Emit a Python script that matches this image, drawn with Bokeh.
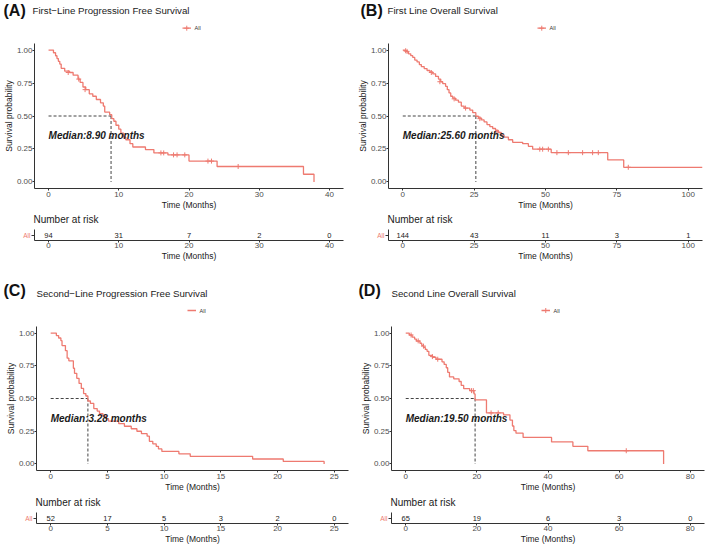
from bokeh.plotting import figure
from bokeh.layouts import column, row
from bokeh.models import Range1d, FactorRange, FixedTicker, NumeralTickFormatter, ColumnDataSource
from bokeh.core.properties import value
from bokeh.embed import file_html
from bokeh.resources import INLINE

FONT = "Liberation Sans"
CURVE = "#EE7A70"
INK = "#1A1A1A"
AXIS = "#333333"
TICKTXT = "#4D4D4D"

# ---------------- (A) First-line progression free survival ----------------
pfs1_time = [0.7, 1.0, 1.2, 1.4, 1.6, 1.8, 2.3, 3.0, 3.5, 4.2, 4.5, 4.9, 5.3, 5.8,
             6.3, 6.8, 7.4, 7.8, 8.0, 8.7, 9.0, 9.3, 9.6, 10.0, 10.3, 10.7, 11.0,
             11.6, 12.0, 13.8, 15.0, 17.0, 20.0, 24.0, 36.3, 37.8]
pfs1_surv = [0.98, 0.957, 0.936, 0.915, 0.894, 0.862, 0.84, 0.83, 0.81, 0.78, 0.755,
             0.72, 0.70, 0.668, 0.65, 0.625, 0.60, 0.575, 0.53, 0.51, 0.48, 0.46, 0.43,
             0.40, 0.37, 0.34, 0.32, 0.29, 0.265, 0.245, 0.22, 0.205, 0.158, 0.117,
             0.058, 0.0]
pfs1_cens_time = [2.8, 4.3, 5.2, 16.0, 16.4, 17.8, 18.3, 19.4, 22.7, 23.2, 27.0]
pfs1_cens_surv = [0.83, 0.78, 0.70, 0.22, 0.22, 0.205, 0.205, 0.205, 0.158, 0.158, 0.117]
pfs1_median = 8.90
pfs1_ticks = [0, 10, 20, 30, 40]
pfs1_at_risk = [94, 31, 7, 2, 0]

# ---------------- (B) First-line overall survival ----------------
os1_time = [0.8, 1.5, 2.0, 2.8, 3.5, 4.2, 5.0, 5.8, 6.5, 7.5, 8.5, 9.5, 10.5, 11.5,
            12.5, 13.3, 14.0, 15.0, 15.6, 16.2, 16.8, 17.5, 18.5, 19.5, 20.5, 21.5,
            23.5, 24.5, 25.6, 26.5, 27.5, 28.5, 29.5, 30.5, 31.5, 32.5, 33.5, 34.5,
            35.5, 37.0, 38.5, 42.0, 44.0, 45.5, 52.0, 71.8, 77.4, 105.0]
os1_surv = [0.993, 0.986, 0.972, 0.958, 0.944, 0.924, 0.91, 0.89, 0.875, 0.86, 0.845,
            0.835, 0.82, 0.80, 0.78, 0.76, 0.745, 0.725, 0.70, 0.675, 0.65, 0.635,
            0.62, 0.605, 0.575, 0.56, 0.545, 0.525, 0.498, 0.485, 0.47, 0.455, 0.435,
            0.42, 0.405, 0.39, 0.375, 0.355, 0.34, 0.32, 0.30, 0.29, 0.27, 0.248,
            0.222, 0.167, 0.111, 0.111]
os1_cens_time = [1.0, 1.5, 10.0, 13.0, 18.0, 22.0, 27.0, 33.0, 48.0, 49.0, 51.0, 54.0,
                 58.0, 63.0, 66.5, 68.5, 79.0]
os1_cens_surv = [0.995, 0.99, 0.83, 0.76, 0.63, 0.56, 0.48, 0.38, 0.248, 0.248, 0.248,
                 0.222, 0.222, 0.222, 0.222, 0.222, 0.111]
os1_median = 25.60
os1_ticks = [0, 25, 50, 75, 100]
os1_at_risk = [144, 43, 11, 3, 1]

# ---------------- (C) Second-line progression free survival ----------------
pfs2_time = [0.5, 0.7, 0.9, 1.0, 1.3, 1.45, 1.6, 2.0, 2.1, 2.3, 2.5, 2.7, 2.9, 3.1,
             3.28, 3.5, 3.8, 4.1, 4.3, 4.6, 4.9, 5.1, 6.0, 6.5, 7.1, 7.6, 8.0, 8.5,
             8.7, 9.0, 9.3, 9.5, 9.8, 11.3, 12.3, 17.8, 20.5, 24.1]
pfs2_surv = [0.981, 0.962, 0.942, 0.904, 0.865, 0.808, 0.788, 0.731, 0.692, 0.654,
             0.615, 0.577, 0.538, 0.519, 0.481, 0.462, 0.423, 0.404, 0.385, 0.365,
             0.346, 0.327, 0.308, 0.288, 0.269, 0.25, 0.231, 0.212, 0.173, 0.154,
             0.135, 0.115, 0.096, 0.077, 0.058, 0.038, 0.019, 0.0]
pfs2_cens_time = []
pfs2_cens_surv = []
pfs2_median = 3.28
pfs2_ticks = [0, 5, 10, 15, 20, 25]
pfs2_at_risk = [52, 17, 5, 3, 2, 0]

# ---------------- (D) Second-line overall survival ----------------
os2_time = [1.0, 1.8, 2.5, 3.0, 4.0, 4.5, 5.0, 5.5, 6.0, 6.5, 7.5, 8.5, 10.2, 10.8,
            11.4, 11.8, 12.3, 13.5, 15.0, 15.6, 16.3, 18.0, 19.2, 19.5, 22.7, 27.5,
            29.3, 30.0, 30.4, 31.0, 33.0, 41.0, 47.0, 51.2, 72.5]
os2_surv = [0.985, 0.969, 0.954, 0.938, 0.922, 0.906, 0.89, 0.875, 0.86, 0.83, 0.815,
            0.80, 0.78, 0.76, 0.735, 0.70, 0.665, 0.65, 0.63, 0.60, 0.575, 0.56,
            0.535, 0.49, 0.39, 0.375, 0.335, 0.29, 0.255, 0.235, 0.203, 0.168,
            0.135, 0.101, 0.0]
os2_cens_time = [1.5, 3.5, 5.0, 7.5, 9.0, 18.5, 19.0, 24.0, 26.0, 62.0]
os2_cens_surv = [0.985, 0.94, 0.90, 0.82, 0.80, 0.56, 0.56, 0.39, 0.39, 0.101]
os2_median = 19.50
os2_ticks = [0, 20, 40, 60, 80]
os2_at_risk = [65, 19, 6, 3, 0]


def blank(width, height):
    """A plain drawing strip whose data units are pixels, y growing downward."""
    return figure(width=width, height=height, x_range=Range1d(0, width),
                  y_range=Range1d(height, 0), x_axis_type=None, y_axis_type=None,
                  toolbar_location=None, output_backend="svg", min_border=0,
                  outline_line_color=None)


def header(spec):
    f = blank(spec["width"], spec["header_h"])
    f.text(x=[spec["tag_x"]], y=[spec["tag_y"]], text=[spec["tag"]],
           text_font=value(FONT), text_font_size="16px", text_font_style="bold",
           text_baseline="middle", text_color="#111111")
    f.text(x=[spec["sub_x"]], y=[spec["sub_y"]], text=[spec["subtitle"]],
           text_font=value(FONT), text_font_size="9.7px",
           text_baseline="middle", text_color="#222222")
    lx, ly = spec["leg_x"], spec["leg_y"]
    f.segment(x0=[lx], y0=[ly], x1=[lx + 8.5], y1=[ly], line_color=CURVE, line_width=1.3)
    if spec["cross"]:
        f.scatter(x=[lx + 4.25], y=[ly], marker="cross", size=5, line_color=CURVE,
                  line_width=1)
    f.text(x=[lx + 12], y=[ly], text=["All"], text_font=value(FONT),
           text_font_size="5.5px", text_baseline="middle", text_color="#333333")
    return f


def risk_caption(spec):
    f = blank(spec["width"], spec["cap_h"])
    f.text(x=[spec["left"] - 1], y=[spec["cap_y"]], text=["Number at risk"],
           text_font=value(FONT), text_font_size="10px", text_baseline="middle",
           text_color=INK)
    return f


def style_axes(p):
    for ax in p.axis:
        ax.axis_line_color = AXIS
        ax.axis_line_width = 1
        ax.major_tick_line_color = AXIS
        ax.major_tick_out = 2
        ax.major_tick_in = 0
        ax.minor_tick_line_color = None
        ax.major_label_text_font = FONT
        ax.major_label_text_font_size = "8px"
        ax.major_label_text_color = TICKTXT
        ax.major_label_standoff = 0
        ax.axis_label_text_font = FONT
        ax.axis_label_text_font_size = "8.5px"
        ax.axis_label_text_font_style = "normal"
        ax.axis_label_text_color = INK
        ax.axis_label_standoff = 0


def km_plot(spec):
    lo, hi = spec["xlim"]
    p = figure(width=spec["width"], height=spec["km_h"], x_range=Range1d(lo, hi),
               y_range=Range1d(-0.05, 1.05), toolbar_location=None,
               output_backend="svg", min_border_left=spec["left"],
               min_border_right=spec["right"], min_border_top=0,
               min_border_bottom=25)
    p.grid.visible = False
    p.outline_line_color = None
    p.xaxis.ticker = FixedTicker(ticks=spec["ticks"])
    p.yaxis.ticker = FixedTicker(ticks=[0, 0.25, 0.5, 0.75, 1.0])
    p.yaxis.formatter = NumeralTickFormatter(format="0.00")
    p.xaxis.axis_label = "Time (Months)"
    p.yaxis.axis_label = "Survival probability"
    style_axes(p)
    p.xaxis.major_label_standoff = 1

    med = spec["median"]
    p.segment(x0=[0], y0=[0.5], x1=[med], y1=[0.5], line_color="#444444",
              line_dash="3 2", line_width=1)
    p.segment(x0=[med], y0=[0.5], x1=[med], y1=[0], line_color="#444444",
              line_dash="3 2", line_width=1)

    xs = [0.0] + list(spec["time"])
    ys = [1.0] + list(spec["surv"])
    p.step(x=xs, y=ys, mode="after", line_color=CURVE, line_width=1.3)
    if spec["cens_time"]:
        p.scatter(x=spec["cens_time"], y=spec["cens_surv"], marker="cross", size=5,
                  line_color=CURVE, line_width=1)
    p.text(x=[0], y=[0.35], text=[f"Median:{med:.2f} months"], text_font=value(FONT),
           text_font_size="10px", text_font_style="bold italic",
           text_baseline="middle", text_color=INK)
    return p


def risk_table(spec):
    lo, hi = spec["xlim"]
    r = figure(width=spec["width"], height=spec["risk_h"], x_range=Range1d(lo, hi),
               y_range=FactorRange(factors=["All"]), toolbar_location=None,
               output_backend="svg", min_border_left=spec["left"],
               min_border_right=spec["right"], min_border_top=0,
               min_border_bottom=spec["risk_bottom"])
    r.grid.visible = False
    r.outline_line_color = None
    r.xaxis.ticker = FixedTicker(ticks=spec["ticks"])
    r.xaxis.axis_label = "Time (Months)"
    style_axes(r)
    r.yaxis.major_label_text_color = CURVE
    r.yaxis.major_label_text_font_size = "6.5px"
    r.yaxis.major_tick_out = 3
    r.yaxis.major_label_standoff = 1
    src = ColumnDataSource(dict(t=spec["ticks"], g=["All"] * len(spec["ticks"]),
                                n=[str(v) for v in spec["at_risk"]]))
    r.text(x="t", y="g", text="n", source=src, text_font=value(FONT),
           text_font_size="7.5px", text_align="center", text_baseline="middle",
           text_color=INK)
    return r


top = dict(header_h=43, km_h=170, cap_h=16, cap_y=6, risk_h=51, risk_bottom=40,
           tag_y=10, sub_y=10, leg_y=27.7)
bottom = dict(header_h=46, km_h=169, cap_h=17, cap_y=7, risk_h=35, risk_bottom=24,
              tag_y=10, sub_y=12.7, leg_y=30)

specs = [
    dict(top, width=354, left=34, right=11, xlim=(-2, 42), tag="(A)", tag_x=3,
         sub_x=32, subtitle="First\u2212Line Progression Free Survival", leg_x=182,
         cross=True, time=pfs1_time, surv=pfs1_surv, cens_time=pfs1_cens_time,
         cens_surv=pfs1_cens_surv, median=pfs1_median, ticks=pfs1_ticks,
         at_risk=pfs1_at_risk),
    dict(top, width=355, left=34, right=7, xlim=(-5, 105), tag="(B)", tag_x=6,
         sub_x=33, subtitle="First Line Overall Survival", leg_x=183,
         cross=True, time=os1_time, surv=os1_surv, cens_time=os1_cens_time,
         cens_surv=os1_cens_surv, median=os1_median, ticks=os1_ticks,
         at_risk=os1_at_risk),
    dict(bottom, width=354, left=36, right=6, xlim=(-1.25, 26.25), tag="(C)", tag_x=3,
         sub_x=36, subtitle="Second\u2212Line Progression Free Survival", leg_x=187,
         cross=False, time=pfs2_time, surv=pfs2_surv, cens_time=pfs2_cens_time,
         cens_surv=pfs2_cens_surv, median=pfs2_median, ticks=pfs2_ticks,
         at_risk=pfs2_at_risk),
    dict(bottom, width=355, left=37, right=5, xlim=(-4, 84), tag="(D)", tag_x=4,
         sub_x=37, subtitle="Second Line Overall Survival", leg_x=187,
         cross=True, time=os2_time, surv=os2_surv, cens_time=os2_cens_time,
         cens_surv=os2_cens_surv, median=os2_median, ticks=os2_ticks,
         at_risk=os2_at_risk),
]

# Each horizontal band is its own row so that the text strips keep their
# full width instead of lining up with the plot frames below them.
bands = []
for left, right in [(specs[0], specs[1]), (specs[2], specs[3])]:
    bands.append(row(header(left), header(right), spacing=0))
    bands.append(row(km_plot(left), km_plot(right), spacing=0))
    bands.append(row(risk_caption(left), risk_caption(right), spacing=0))
    bands.append(row(risk_table(left), risk_table(right), spacing=0))
layout = column(*bands, spacing=0)

open("out.html", "w").write(file_html(layout, INLINE))
